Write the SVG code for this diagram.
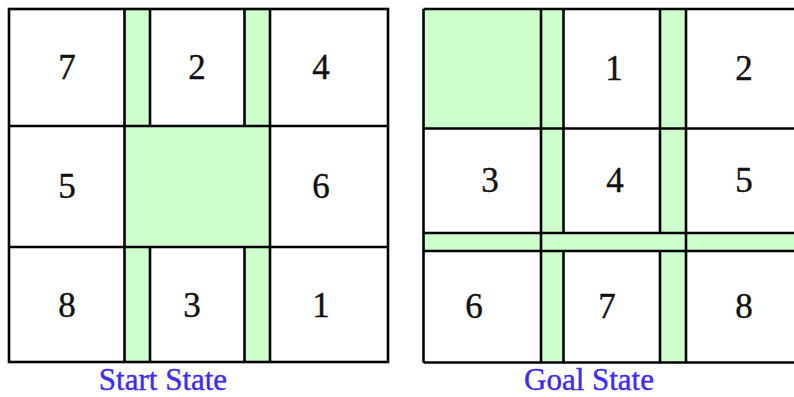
<svg xmlns="http://www.w3.org/2000/svg" width="794" height="397" viewBox="0 0 794 397">
  <style>
    .ln { stroke: #000; stroke-width: 2.6; fill: none; }
    .g { fill: #ccffcc; }
    .w { fill: #fff; }
    .num { font-family: "Liberation Serif", "Times New Roman", serif; font-size: 35px; fill: #111; stroke: #111; stroke-width: 0.4; text-anchor: middle; }
    .lbl { font-family: "Liberation Serif", "Times New Roman", serif; font-size: 31px; fill: #3d2bf5; stroke: #3d2bf5; stroke-width: 0.4; text-anchor: middle; }
  </style>
  <rect x="0" y="0" width="794" height="397" fill="#fff"/>

  <!-- Start State grid -->
  <g id="start-state">
    <g id="start-fill">
      <rect x="9" y="9" width="379" height="353" class="w"/>
      <rect x="124.5" y="9" width="145.5" height="353" class="g"/>
      <rect x="150" y="9" width="94.5" height="117" class="w"/>
      <rect x="150" y="247" width="94.5" height="115" class="w"/>
    </g>
    <g id="s-cell-7"><text class="num" x="67" y="79">7</text></g>
    <g id="s-cell-2"><text class="num" x="197" y="79">2</text></g>
    <g id="s-cell-4"><text class="num" x="321" y="79">4</text></g>
    <g id="s-cell-5"><text class="num" x="67" y="198">5</text></g>
    <g id="s-cell-blank"></g>
    <g id="s-cell-6"><text class="num" x="321" y="198">6</text></g>
    <g id="s-cell-8"><text class="num" x="67" y="317">8</text></g>
    <g id="s-cell-3"><text class="num" x="192" y="317">3</text></g>
    <g id="s-cell-1"><text class="num" x="321" y="317">1</text></g>
    <g id="start-lines" class="ln">
      <rect x="9" y="9" width="379" height="353"/>
      <line x1="9" y1="126" x2="388" y2="126"/>
      <line x1="9" y1="247" x2="388" y2="247"/>
      <line x1="124.5" y1="9" x2="124.5" y2="362"/>
      <line x1="270" y1="9" x2="270" y2="362"/>
      <line x1="150" y1="9" x2="150" y2="126"/>
      <line x1="244.5" y1="9" x2="244.5" y2="126"/>
      <line x1="150" y1="247" x2="150" y2="362"/>
      <line x1="244.5" y1="247" x2="244.5" y2="362"/>
    </g>
    <text id="start-label" class="lbl" x="163" y="390">Start State</text>
  </g>

  <!-- Goal State grid -->
  <g id="goal-state">
    <g id="goal-fill">
      <rect x="423.5" y="9" width="380" height="353.5" class="w"/>
      <rect x="423.5" y="9" width="117.5" height="119.5" class="g"/>
      <rect x="541" y="9" width="22.5" height="353.5" class="g"/>
      <rect x="660" y="9" width="26" height="353.5" class="g"/>
      <rect x="423.5" y="233" width="380" height="18" class="g"/>
    </g>
    <g id="g-cell-blank"></g>
    <g id="g-cell-1"><text class="num" x="614" y="80">1</text></g>
    <g id="g-cell-2"><text class="num" x="744" y="80">2</text></g>
    <g id="g-cell-3"><text class="num" x="490" y="192">3</text></g>
    <g id="g-cell-4"><text class="num" x="615" y="192">4</text></g>
    <g id="g-cell-5"><text class="num" x="744" y="192">5</text></g>
    <g id="g-cell-6"><text class="num" x="474" y="318">6</text></g>
    <g id="g-cell-7"><text class="num" x="607" y="318">7</text></g>
    <g id="g-cell-8"><text class="num" x="744" y="318">8</text></g>
    <g id="goal-lines" class="ln">
      <line x1="423.5" y1="9" x2="800" y2="9"/>
      <line x1="423.5" y1="128.5" x2="800" y2="128.5"/>
      <line x1="423.5" y1="233" x2="800" y2="233"/>
      <line x1="423.5" y1="251" x2="800" y2="251"/>
      <line x1="423.5" y1="362.5" x2="800" y2="362.5"/>
      <line x1="423.5" y1="9" x2="423.5" y2="362.5"/>
      <line x1="541" y1="9" x2="541" y2="362.5"/>
      <line x1="686" y1="9" x2="686" y2="362.5"/>
      <line x1="563.5" y1="9" x2="563.5" y2="233"/>
      <line x1="660" y1="9" x2="660" y2="233"/>
      <line x1="563.5" y1="251" x2="563.5" y2="362.5"/>
      <line x1="660" y1="251" x2="660" y2="362.5"/>
    </g>
    <text id="goal-label" class="lbl" x="589" y="390">Goal State</text>
  </g>
</svg>
